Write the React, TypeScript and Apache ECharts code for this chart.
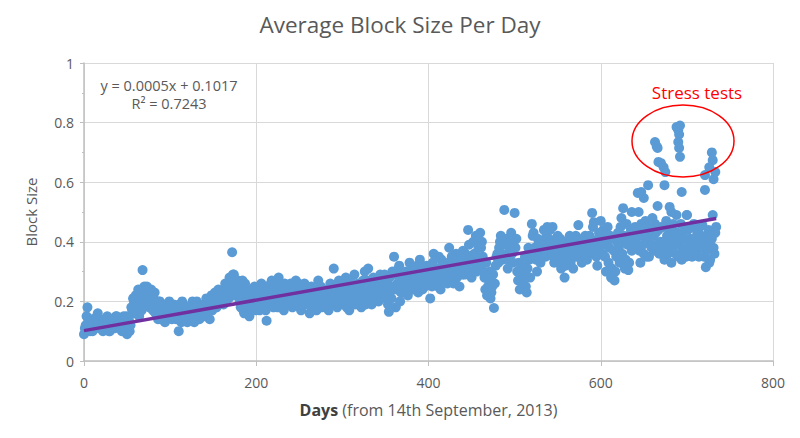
import React, { useEffect, useRef } from "react";
import * as echarts from "echarts";

const TITLE = "Average Block Size Per Day";
const X_TICKS = [0, 200, 400, 600, 800];
const Y_TICKS = [0, 0.2, 0.4, 0.6, 0.8, 1];

// Average block size on even days (0, 2, 4, ...)
const BLOCK_SIZE_EVEN_DAYS = [
  0.09, 0.12, 0.18, 0.11, 0.13, 0.10, 0.14, 0.12, 0.16, 0.11,
  0.12, 0.10, 0.14, 0.11, 0.13, 0.10, 0.12, 0.14, 0.11, 0.15,
  0.12, 0.13, 0.10, 0.15, 0.11, 0.09, 0.14, 0.12, 0.17, 0.20,
  0.22, 0.18, 0.15, 0.21, 0.305, 0.25, 0.20, 0.23, 0.18, 0.24,
  0.17, 0.23, 0.19, 0.14, 0.20, 0.15, 0.18, 0.13, 0.19, 0.16,
  0.17, 0.14, 0.19, 0.15, 0.18, 0.10, 0.16, 0.20, 0.14, 0.17,
  0.13, 0.18, 0.15, 0.20, 0.13, 0.17, 0.19, 0.14, 0.16, 0.18,
  0.15, 0.21, 0.17, 0.14, 0.22, 0.19, 0.23, 0.18, 0.24, 0.20,
  0.22, 0.19, 0.26, 0.23, 0.21, 0.27, 0.365, 0.29, 0.24, 0.22,
  0.25, 0.18, 0.27, 0.16, 0.21, 0.24, 0.15, 0.22, 0.19, 0.25,
  0.20, 0.24, 0.17, 0.26, 0.22, 0.19, 0.135, 0.25, 0.21, 0.27,
  0.18, 0.26, 0.21, 0.28, 0.19, 0.24, 0.17, 0.25, 0.22, 0.20,
  0.26, 0.18, 0.23, 0.27, 0.20, 0.24, 0.17, 0.22, 0.26, 0.19,
  0.23, 0.16, 0.25, 0.20, 0.22, 0.17, 0.27, 0.21, 0.18, 0.24,
  0.19, 0.23, 0.17, 0.26, 0.21, 0.31, 0.20, 0.18, 0.27, 0.22,
  0.24, 0.19, 0.28, 0.21, 0.17, 0.25, 0.22, 0.29, 0.20, 0.26,
  0.23, 0.18, 0.27, 0.30, 0.21, 0.31, 0.24, 0.19, 0.28, 0.22,
  0.26, 0.20, 0.29, 0.24, 0.22, 0.27, 0.21, 0.165, 0.25, 0.30,
  0.35, 0.18, 0.26, 0.32, 0.23, 0.28, 0.25, 0.30, 0.22, 0.33,
  0.27, 0.24, 0.31, 0.29, 0.23, 0.34, 0.26, 0.30, 0.25, 0.32,
  0.28, 0.21, 0.25, 0.36, 0.30, 0.27, 0.35, 0.24, 0.32, 0.29,
  0.31, 0.26, 0.38, 0.29, 0.34, 0.27, 0.36, 0.30, 0.25, 0.33,
  0.37, 0.29, 0.32, 0.44, 0.35, 0.28, 0.40, 0.33, 0.30, 0.38,
  0.43, 0.40, 0.30, 0.24, 0.22, 0.27, 0.21, 0.25, 0.178, 0.32,
  0.36, 0.38, 0.42, 0.34, 0.507, 0.40, 0.31, 0.37, 0.43, 0.33,
  0.497, 0.41, 0.27, 0.24, 0.30, 0.26, 0.35, 0.23, 0.38, 0.28,
  0.46, 0.43, 0.36, 0.30, 0.40, 0.33, 0.38, 0.44, 0.35, 0.45,
  0.41, 0.37, 0.45, 0.33, 0.39, 0.42, 0.36, 0.31, 0.40, 0.28,
  0.38, 0.34, 0.42, 0.36, 0.31, 0.40, 0.35, 0.456, 0.39, 0.33,
  0.37, 0.42, 0.34, 0.40, 0.36, 0.497, 0.466, 0.38, 0.32, 0.43,
  0.47, 0.36, 0.42, 0.30, 0.45, 0.38, 0.28, 0.41, 0.27, 0.35,
  0.43, 0.33, 0.48, 0.40, 0.31, 0.46, 0.305, 0.40, 0.37, 0.44,
  0.45, 0.38, 0.50, 0.33, 0.42, 0.36, 0.47, 0.40, 0.35, 0.44,
  0.48, 0.37, 0.43, 0.52, 0.36, 0.45, 0.40, 0.34, 0.47, 0.36,
  0.43, 0.33, 0.46, 0.39, 0.49, 0.35, 0.42, 0.34, 0.37, 0.44,
  0.49, 0.36, 0.41, 0.35, 0.46, 0.38, 0.43, 0.35, 0.40, 0.456,
  0.35, 0.315, 0.42, 0.33, 0.38, 0.49, 0.36, 0.45,
];

// Average block size on odd days (1, 3, 5, ...)
const BLOCK_SIZE_ODD_DAYS = [
  0.11, 0.15, 0.13, 0.10, 0.14, 0.12, 0.11, 0.15, 0.13, 0.12,
  0.13, 0.11, 0.12, 0.15, 0.10, 0.14, 0.11, 0.13, 0.15, 0.12,
  0.14, 0.11, 0.13, 0.12, 0.15, 0.11, 0.10, 0.18, 0.21, 0.16,
  0.19, 0.24, 0.20, 0.17, 0.22, 0.19, 0.25, 0.21, 0.23, 0.19,
  0.21, 0.16, 0.18, 0.20, 0.14, 0.17, 0.19, 0.15, 0.18, 0.20,
  0.15, 0.18, 0.16, 0.14, 0.17, 0.19, 0.13, 0.15, 0.18, 0.16,
  0.16, 0.14, 0.19, 0.17, 0.15, 0.20, 0.16, 0.18, 0.15, 0.19,
  0.18, 0.16, 0.20, 0.19, 0.17, 0.21, 0.20, 0.22, 0.19, 0.23,
  0.20, 0.24, 0.21, 0.25, 0.28, 0.26, 0.29, 0.22, 0.25, 0.27,
  0.20, 0.23, 0.17, 0.26, 0.19, 0.22, 0.18, 0.24, 0.21, 0.17,
  0.22, 0.18, 0.25, 0.20, 0.23, 0.17, 0.21, 0.19, 0.26, 0.23,
  0.21, 0.23, 0.18, 0.25, 0.22, 0.20, 0.26, 0.19, 0.24, 0.21,
  0.22, 0.25, 0.19, 0.21, 0.26, 0.18, 0.24, 0.20, 0.23, 0.25,
  0.20, 0.22, 0.18, 0.24, 0.19, 0.23, 0.20, 0.25, 0.22, 0.19,
  0.21, 0.18, 0.24, 0.19, 0.23, 0.25, 0.19, 0.22, 0.20, 0.24,
  0.21, 0.26, 0.18, 0.23, 0.27, 0.20, 0.24, 0.19, 0.25, 0.22,
  0.25, 0.21, 0.24, 0.19, 0.27, 0.22, 0.26, 0.23, 0.20, 0.25,
  0.23, 0.27, 0.21, 0.25, 0.29, 0.23, 0.19, 0.28, 0.21, 0.24,
  0.29, 0.24, 0.31, 0.20, 0.27, 0.23, 0.29, 0.26, 0.24, 0.30,
  0.25, 0.29, 0.27, 0.32, 0.26, 0.28, 0.24, 0.31, 0.28, 0.26,
  0.30, 0.26, 0.33, 0.27, 0.31, 0.25, 0.29, 0.34, 0.27, 0.31,
  0.28, 0.33, 0.30, 0.35, 0.26, 0.31, 0.28, 0.34, 0.31, 0.29,
  0.33, 0.36, 0.31, 0.39, 0.34, 0.30, 0.36, 0.42, 0.35, 0.32,
  0.38, 0.35, 0.28, 0.33, 0.25, 0.30, 0.23, 0.29, 0.26, 0.35,
  0.33, 0.40, 0.36, 0.39, 0.35, 0.41, 0.34, 0.39, 0.36, 0.40,
  0.38, 0.30, 0.33, 0.27, 0.32, 0.29, 0.25, 0.31, 0.34, 0.36,
  0.42, 0.38, 0.34, 0.41, 0.37, 0.35, 0.40, 0.39, 0.42, 0.38,
  0.44, 0.39, 0.35, 0.40, 0.37, 0.34, 0.41, 0.38, 0.35, 0.32,
  0.36, 0.40, 0.33, 0.38, 0.35, 0.42, 0.37, 0.40, 0.36, 0.41,
  0.40, 0.35, 0.38, 0.42, 0.39, 0.45, 0.40, 0.35, 0.41, 0.38,
  0.40, 0.44, 0.35, 0.39, 0.33, 0.42, 0.31, 0.37, 0.30, 0.40,
  0.38, 0.45, 0.36, 0.42, 0.34, 0.39, 0.33, 0.44, 0.41, 0.38,
  0.41, 0.44, 0.37, 0.46, 0.39, 0.43, 0.35, 0.45, 0.41, 0.38,
  0.42, 0.46, 0.39, 0.44, 0.40, 0.38, 0.45, 0.37, 0.42, 0.40,
  0.38, 0.44, 0.41, 0.36, 0.43, 0.39, 0.46, 0.38, 0.41, 0.35,
  0.44, 0.40, 0.38, 0.45, 0.41, 0.37, 0.44, 0.39, 0.42, 0.38,
  0.40, 0.37, 0.44, 0.34, 0.41, 0.38, 0.43,
];

// Extra readings (day, size) in the stress-test period
const SPIKE_POINTS = [
  [626, 0.513], [636, 0.5], [643, 0.564], [647, 0.567], [650, 0.547], [655, 0.59],
  [663, 0.735], [665, 0.72], [666, 0.715], [667, 0.668], [670, 0.664], [673, 0.65],
  [675, 0.634], [674, 0.59], [680, 0.517], [682, 0.5], [688, 0.785], [690, 0.775],
  [692, 0.79], [691, 0.76], [690, 0.735], [691, 0.715], [692, 0.685], [694, 0.567],
  [700, 0.49], [721, 0.574], [721, 0.624], [726, 0.65], [729, 0.7], [730, 0.674],
  [733, 0.634], [731, 0.61],
];

// Linear trend line end points
const TREND = [
  [0, 0.102],
  [734, 0.478],
];

const EQUATION = "y = 0.0005x + 0.1017";
const R_SQUARED = "R² = 0.7243";
const ANNOTATION = "Stress tests";

const FONT = "'Open Sans', Lato, sans-serif";
const TEXT_COLOR = "#595959";

export default function App() {
  const ref = useRef<HTMLDivElement>(null);

  useEffect(() => {
    if (!ref.current) return;
    const chart = echarts.init(ref.current, null, { renderer: "svg" });
    const points: number[][] = [
      ...BLOCK_SIZE_EVEN_DAYS.map((v, i) => [i * 2, v]),
      ...BLOCK_SIZE_ODD_DAYS.map((v, i) => [i * 2 + 1, v]),
      ...SPIKE_POINTS,
    ];
    chart.setOption({
      animation: false,
      backgroundColor: "#ffffff",
      textStyle: { fontFamily: FONT },
      title: {
        text: TITLE,
        left: "center",
        top: 8,
        textStyle: { fontFamily: FONT, fontSize: 22.5, fontWeight: "normal", color: TEXT_COLOR },
      },
      grid: { left: 84, right: 27, top: 63, bottom: 77, containLabel: false },
      xAxis: {
        type: "value",
        min: X_TICKS[0],
        max: X_TICKS[X_TICKS.length - 1],
        interval: 200,
        name: "{b|Days} (from 14th September, 2013)",
        nameLocation: "middle",
        nameGap: 41,
        nameTextStyle: {
          fontFamily: FONT,
          fontSize: 16,
          color: TEXT_COLOR,
          rich: { b: { fontFamily: FONT, fontSize: 16, fontWeight: "bold", color: "#404040" } },
        },
        axisLine: { show: true, lineStyle: { color: "#BFBFBF", width: 1.5 } },
        axisTick: { show: true, length: 5, lineStyle: { color: "#BFBFBF" } },
        axisLabel: { fontFamily: FONT, fontSize: 14, color: TEXT_COLOR, margin: 14 },
        splitLine: { show: true, lineStyle: { color: "#D9D9D9", width: 1 } },
      },
      yAxis: {
        type: "value",
        min: Y_TICKS[0],
        max: Y_TICKS[Y_TICKS.length - 1],
        interval: 0.2,
        name: "Block Size",
        nameLocation: "middle",
        nameGap: 46,
        nameTextStyle: { fontFamily: FONT, fontSize: 15, color: TEXT_COLOR },
        axisLine: { show: true, lineStyle: { color: "#BFBFBF", width: 1.5 } },
        axisTick: { show: true, length: 4, lineStyle: { color: "#BFBFBF" } },
        minorTick: { show: true, splitNumber: 2, length: 2, lineStyle: { color: "#BFBFBF" } },
        axisLabel: { fontFamily: FONT, fontSize: 14, color: TEXT_COLOR, margin: 10 },
        splitLine: { show: true, lineStyle: { color: "#D9D9D9", width: 1 } },
      },
      series: [
        {
          type: "scatter",
          data: points,
          symbol: "circle",
          symbolSize: 10,
          itemStyle: { color: "#5B9BD5", opacity: 1 },
          z: 2,
        },
        {
          type: "line",
          data: TREND,
          showSymbol: false,
          symbol: "none",
          lineStyle: { color: "#7030A0", width: 3.5 },
          z: 3,
        },
      ],
      graphic: [
        {
          type: "text",
          x: 169,
          y: 76,
          style: {
            text: EQUATION + "\n" + R_SQUARED,
            fontFamily: FONT,
            fontSize: 14.5,
            lineHeight: 18,
            fill: TEXT_COLOR,
            textAlign: "center",
          },
        },
        {
          type: "text",
          x: 697,
          y: 92,
          style: {
            text: ANNOTATION,
            fontFamily: FONT,
            fontSize: 17,
            fill: "#FF0000",
            textAlign: "center",
            textVerticalAlign: "middle",
          },
        },
        {
          type: "ellipse",
          shape: { cx: 683, cy: 141, rx: 51, ry: 36 },
          style: { fill: "none", stroke: "#FF0000", lineWidth: 1.5 },
          z: 10,
        },
      ],
    });
    return () => chart.dispose();
  }, []);

  return (
    <div
      ref={ref}
      style={{ position: "fixed", left: 0, top: 0, width: 800, height: 438 }}
    />
  );
}
